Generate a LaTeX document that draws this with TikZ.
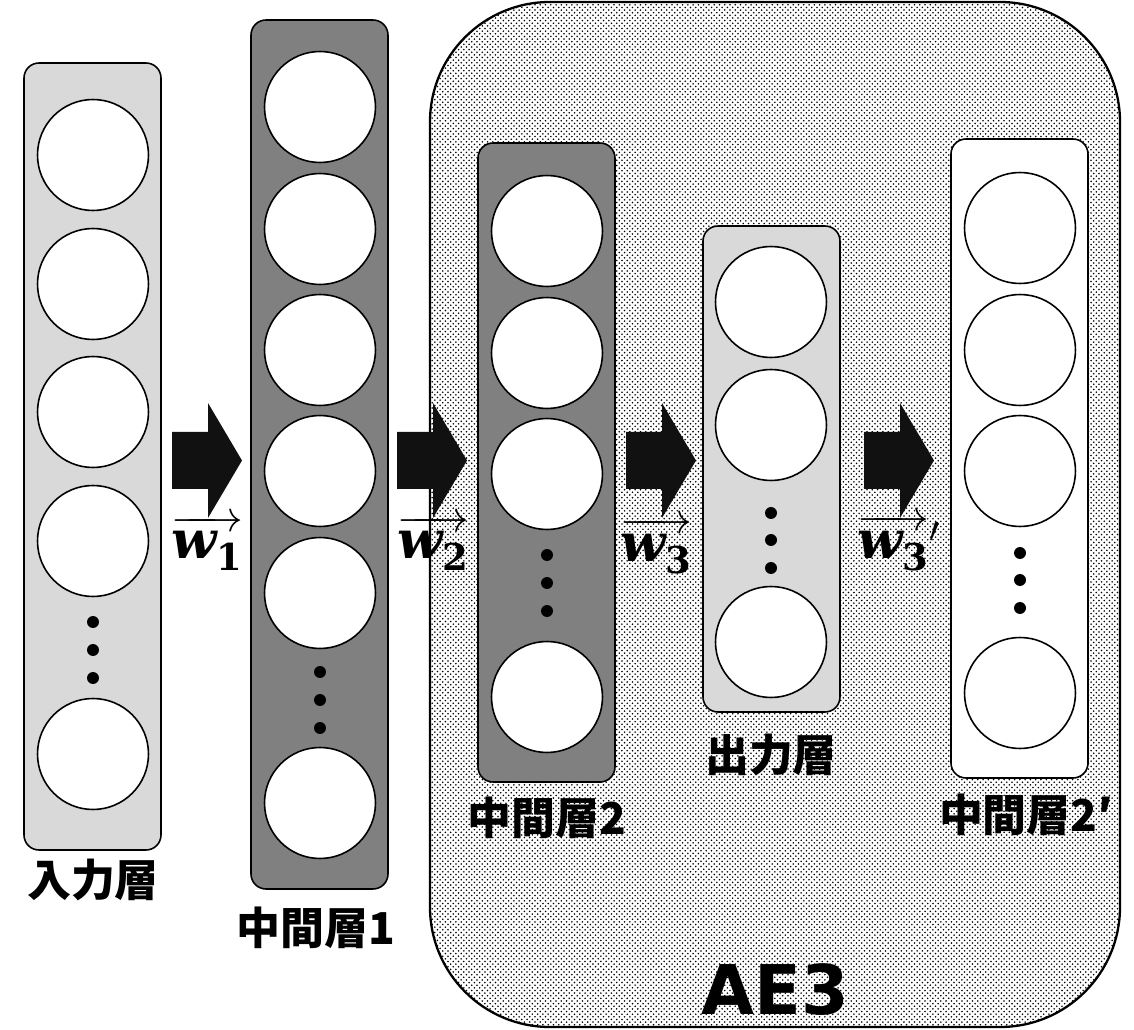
\documentclass[tikz,border=0pt]{standalone}
\usepackage{fontspec}
\usepackage{amsmath}
\usepackage{tikz}
\usetikzlibrary{patterns}
\newfontfamily\jpfont{Noto Sans CJK JP}
\newfontfamily\aefont{DejaVu Sans}
\newfontfamily\wfont{DejaVu Serif}
\definecolor{LayerLight}{HTML}{D9D9D9}
\definecolor{LayerDark}{HTML}{808080}
\definecolor{ArrowInk}{HTML}{111111}
\newcommand\wvec[2]{$\overrightarrow{\text{\wfont\bfseries\itshape w}_{\text{\wfont\bfseries #1}}}#2$}
\tikzset{
  layerbox/.style={draw=black, line width=0.9pt, rounded corners=0.3cm, minimum width=2.74cm, inner sep=0pt},
  neuron/.style={draw=black, fill=white, circle, line width=0.9pt, minimum size=2.22cm, inner sep=0pt},
  layerlabel/.style={font=\jpfont\bfseries\fontsize{25pt}{30pt}\selectfont},
  weightlabel/.style={font=\fontsize{30pt}{36pt}\selectfont, inner sep=0pt}
}

\begin{document}
\begin{tikzpicture}[x=0.02cm,y=-0.02cm]
  \useasboundingbox (0,0) rectangle (1134,1030);
  % AE3 region
  \draw[line width=1.3pt, pattern=crosshatch dots, pattern color=black, rounded corners=2.4cm] (430,2) rectangle (1120,1027);
  \node[font=\aefont\bfseries\fontsize{39pt}{44pt}\selectfont] (ae) at (775,990) {AE3};
  % layer boxes
  \node[layerbox, fill=LayerLight, minimum height=787*0.02cm] (in) at (92.5,456.5) {};
  \node[layerbox, fill=LayerDark, minimum height=869*0.02cm] (h1) at (319.5,454.5) {};
  \node[layerbox, fill=LayerDark, minimum height=639*0.02cm] (h2) at (546.5,462.5) {};
  \node[layerbox, fill=LayerLight, minimum height=486*0.02cm] (out) at (771.5,469) {};
  \node[layerbox, fill=white, minimum height=639*0.02cm] (h2p) at (1019.5,458.5) {};
  % neurons and dots
  \foreach \lay/\x/\ys/\ds in {in/93/{155,284,412,541,754}/{622,650,678},
                               h1/320/{107,229,350,471,593,803}/{672,700,728},
                               h2/547/{231,353,474,697}/{555,583,611},
                               out/771/{302,425,642}/{513,540,568},
                               h2p/1020/{228,350,471,693}/{553,580,608}} {
    \foreach \y [count=\i] in \ys {
      \node[neuron] (\lay-\i) at (\x,\y) {};
    }
    \foreach \y in \ds {
      \fill (\x,\y) circle (0.12cm);
    }
  }
  % layer names
  \node[layerlabel] (in-name) at (93,880) {入力層};
  \node[layerlabel] (h1-name) at (316,928) {中間層1};
  \node[layerlabel] (h2-name) at (547,818) {中間層2};
  \node[layerlabel] (out-name) at (771,755) {出力層};
  \node[layerlabel] (h2p-name) at (1026,815) {中間層2′};
  % block arrows
  \foreach \x in {172,397,626,864} {
    \fill[ArrowInk] (\x,432) -- ++(36,0) -- ++(0,-29) -- ++(34,57.5) -- ++(-34,57.5) -- ++(0,-29) -- ++(-36,0) -- cycle;
  }
  % weights
  \node[weightlabel] (w1) at (207,543) {\wvec{1}{}};
  \node[weightlabel] (w2) at (433,543) {\wvec{2}{}};
  \node[weightlabel] (w3) at (656,546) {\wvec{3}{}};
  \node[weightlabel] (w3p) at (899,543) {\wvec{3}{'}};
\end{tikzpicture}
\end{document}
